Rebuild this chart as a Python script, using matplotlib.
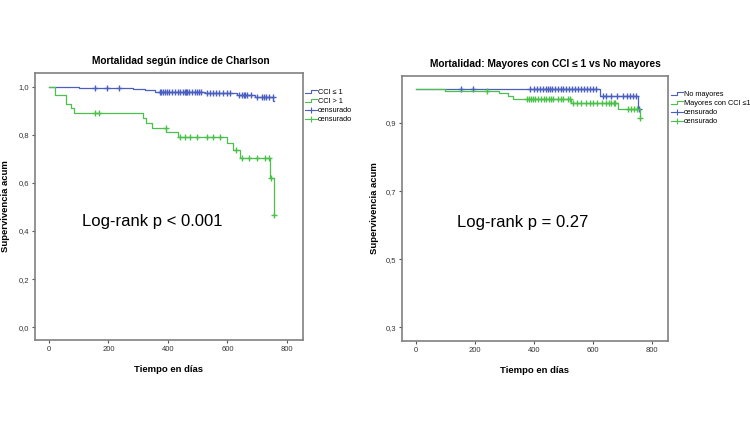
import numpy as np
import matplotlib
matplotlib.use("Agg")
import matplotlib.pyplot as plt
from matplotlib.lines import Line2D
from matplotlib.legend_handler import HandlerBase
from matplotlib.ticker import FuncFormatter

plt.rcParams["font.family"] = ["Liberation Sans", "DejaVu Sans"]

BLUE = "#4a5fbf"
GREEN = "#4cc04c"
FRAME = "#808080"

# --- left panel: CCI <= 1 vs CCI > 1 ---
left_low_t = [0, 102, 283, 323, 355, 524, 631, 692, 754]
left_low_s = [1.0, 0.996, 0.991, 0.985, 0.980, 0.974, 0.967, 0.959, 0.942]
left_low_end = 755
left_low_cens = [155, 194, 236, 373, 378, 383, 390, 397, 405, 415, 425, 435,
                 442, 450, 456, 460, 465, 470, 480, 490, 497, 505, 512, 530,
                 540, 550, 560, 572, 585, 600, 610, 640, 650, 655, 660, 665,
                 680, 700, 715, 722, 730, 740, 752]

left_high_t = [0, 19, 58, 75, 83, 317, 325, 345, 395, 435, 598, 617, 643, 744, 755]
left_high_s = [1.0, 0.965, 0.93, 0.913, 0.89, 0.868, 0.85, 0.83, 0.81, 0.79,
               0.765, 0.735, 0.705, 0.622, 0.465]
left_high_end = 755
left_high_cens = [154, 169, 392, 440, 457, 474, 497, 530, 553, 575, 628, 648,
                  671, 699, 727, 740, 748, 755]

# --- right panel: No mayores vs Mayores con CCI <= 1 ---
right_no_t = [0, 624, 754]
right_no_s = [1.0, 0.979, 0.941]
right_no_end = 760
right_no_cens = [154, 193, 385, 400, 410, 420, 430, 440, 447, 455, 460, 470,
                 480, 490, 500, 510, 520, 530, 540, 550, 560, 570, 580, 590,
                 600, 611, 634, 645, 660, 680, 700, 715, 725, 735, 745, 755]

right_may_t = [0, 98, 282, 313, 330, 524, 686, 759]
right_may_s = [1.0, 0.994, 0.987, 0.980, 0.970, 0.958, 0.941, 0.915]
right_may_end = 759
right_may_cens = [240, 375, 382, 390, 398, 405, 415, 425, 435, 440, 450, 458,
                  465, 480, 490, 500, 515, 522, 533, 545, 560, 575, 590, 600,
                  615, 630, 645, 655, 660, 670, 675, 719, 730, 740, 750, 759]


class StepHandler(HandlerBase):
    def create_artists(self, legend, orig_handle, xdescent, ydescent,
                       width, height, fontsize, trans):
        x0 = -xdescent
        y0 = -ydescent
        xs = [x0, x0 + 0.55 * width, x0 + 0.55 * width, x0 + width]
        ys = [y0 + 0.15 * height, y0 + 0.15 * height, y0 + 0.85 * height, y0 + 0.85 * height]
        line = Line2D(xs, ys, color=orig_handle.get_color(),
                      lw=orig_handle.get_linewidth())
        line.set_transform(trans)
        return [line]


def km(ax, times, surv, end, cens, color):
    t = list(times) + [end]
    s = list(surv) + [surv[-1]]
    ax.step(t, s, where="post", color=color, lw=0.9)
    idx = np.searchsorted(times, cens, side="right") - 1
    ax.plot(cens, np.array(surv)[idx], ls="none", marker="+", ms=4.5,
            mew=1.0, color=color)


def style(ax, yticks):
    for sp in ax.spines.values():
        sp.set_color(FRAME)
        sp.set_linewidth(1.2)
    ax.set_xlim(-47, 854)
    ax.set_xticks([0, 200, 400, 600, 800])
    ax.set_yticks(yticks)
    ax.yaxis.set_major_formatter(FuncFormatter(lambda v, p: f"{v:.1f}".replace(".", ",")))
    ax.tick_params(direction="out", length=2.5, width=0.8, color="#555555",
                   labelsize=5.5, labelcolor="#333333", pad=1.5)
    ax.set_xlabel("Tiempo en días", fontsize=6.8, fontweight="bold")
    ax.set_ylabel("Supervivencia acum", fontsize=6.8, fontweight="bold")
    ax.xaxis.set_label_coords(0.5, -0.094)
    ax.yaxis.set_label_coords(-0.093, 0.5)


fig = plt.figure(figsize=(7.5, 4.21), dpi=100)

ax1 = fig.add_axes([35 / 750, 1 - 340 / 421, 268 / 750, 267 / 421])
km(ax1, left_low_t, left_low_s, left_low_end, left_low_cens, BLUE)
km(ax1, left_high_t, left_high_s, left_high_end, left_high_cens, GREEN)
style(ax1, [0.0, 0.2, 0.4, 0.6, 0.8, 1.0])
ax1.set_ylim(-0.053, 1.057)
ax1.text(0.545, 1.025, "Mortalidad según índice de Charlson", transform=ax1.transAxes,
         ha="center", va="bottom", fontsize=7.3, fontweight="bold")
ax1.text(0.175, 0.442, "Log-rank p < 0.001", transform=ax1.transAxes,
         ha="left", va="center", fontsize=12)

ax2 = fig.add_axes([402 / 750, 1 - 341 / 421, 266 / 750, 265 / 421])
km(ax2, right_no_t, right_no_s, right_no_end, right_no_cens, BLUE)
km(ax2, right_may_t, right_may_s, right_may_end, right_may_cens, GREEN)
style(ax2, [0.3, 0.5, 0.7, 0.9])
ax2.set_ylim(0.26, 1.038)
ax2.yaxis.set_label_coords(-0.086, 0.5)
ax2.text(0.54, 1.025, "Mortalidad: Mayores con CCI ≤ 1 vs No mayores", transform=ax2.transAxes,
         ha="center", va="bottom", fontsize=7.3, fontweight="bold")
ax2.text(0.207, 0.449, "Log-rank p = 0.27", transform=ax2.transAxes,
         ha="left", va="center", fontsize=12)


def add_legend(labels, x, y):
    h1 = Line2D([], [], color=BLUE, lw=0.8)
    h2 = Line2D([], [], color=GREEN, lw=0.8)
    h3 = Line2D([], [], color=BLUE, lw=0.8, marker="+", ms=5, mew=0.8)
    h4 = Line2D([], [], color=GREEN, lw=0.8, marker="+", ms=5, mew=0.8)
    fig.legend([h1, h2, h3, h4], labels, loc="upper left",
               bbox_to_anchor=(x / 750, 1 - y / 421), frameon=False,
               fontsize=5.3, handlelength=1.6, handletextpad=0.2,
               labelspacing=0.25, borderpad=0, borderaxespad=0,
               handler_map={h1: StepHandler(), h2: StepHandler()})


add_legend(["CCI ≤ 1", "CCI > 1", "censurado", "censurado"], 305, 89)
add_legend(["No mayores", "Mayores con CCI ≤1", "censurado", "censurado"], 671, 91)

fig.savefig("out.png", dpi=100)
